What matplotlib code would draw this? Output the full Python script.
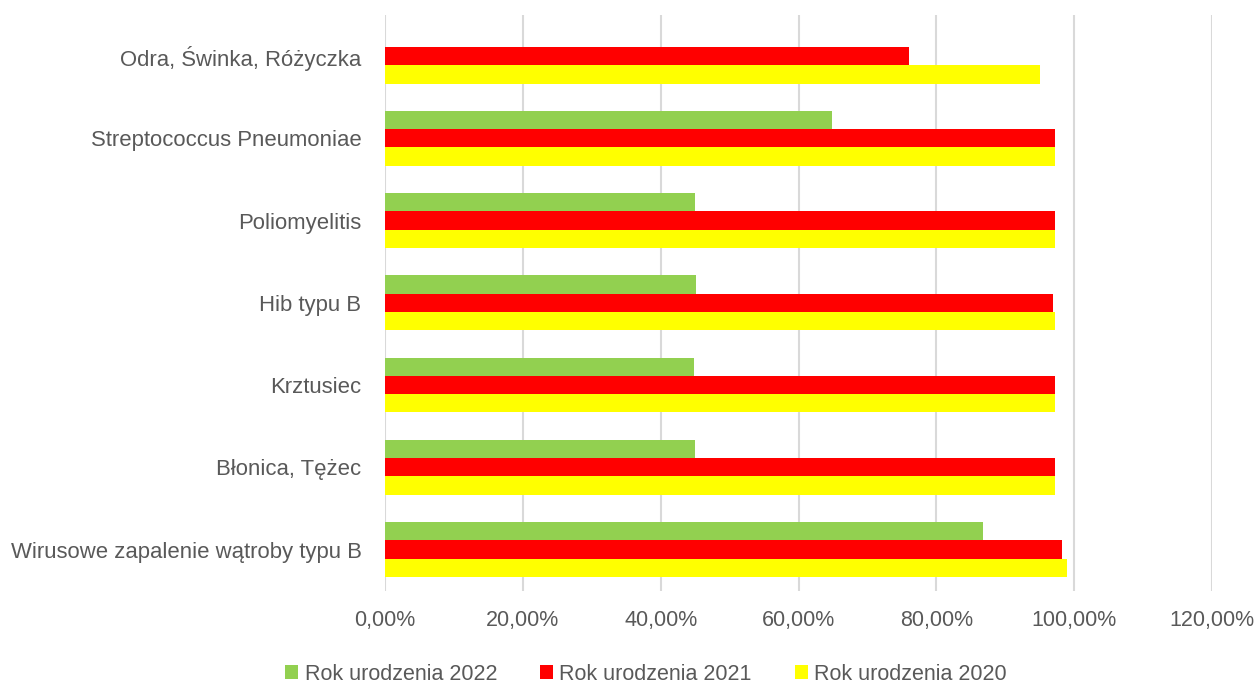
import matplotlib

matplotlib.use("Agg")
import matplotlib.pyplot as plt
from matplotlib.ticker import FuncFormatter
import numpy as np

plt.rcParams["font.family"] = ["Liberation Sans", "DejaVu Sans"]

# categories listed bottom to top
categories = [
    "Wirusowe zapalenie wątroby typu B",
    "Błonica, Tężec",
    "Krztusiec",
    "Hib typu B",
    "Poliomyelitis",
    "Streptococcus Pneumoniae",
    "Odra, Świnka, Różyczka",
]
rok_2022 = [86.7, 45.0, 44.9, 45.1, 45.0, 64.8, 0.0]
rok_2021 = [98.2, 97.2, 97.2, 96.9, 97.2, 97.2, 76.0]
rok_2020 = [99.0, 97.2, 97.2, 97.2, 97.2, 97.2, 95.0]

series = [
    ("Rok urodzenia 2022", rok_2022, "#92d050"),
    ("Rok urodzenia 2021", rok_2021, "#ff0000"),
    ("Rok urodzenia 2020", rok_2020, "#ffff00"),
]

text_color = "#595959"
grid_color = "#d9d9d9"

fig = plt.figure(figsize=(12.57, 6.84), dpi=100)
ax = fig.add_axes([385 / 1257, 1 - 590.7 / 684, (1212 - 385) / 1257, (590.7 - 15) / 684])

y = np.arange(len(categories))
h = 0.222
offsets = [h, 0, -h]
for (label, values, color), off in zip(series, offsets):
    ax.barh(y + off, values, height=h, color=color, label=label, zorder=3)

ax.set_xlim(0, 120)
ax.set_ylim(-0.5, len(categories) - 0.5)
ax.set_xticks(np.arange(0, 121, 20))
ax.xaxis.set_major_formatter(FuncFormatter(lambda v, _: f"{v:.2f}%".replace(".", ",")))
ax.set_yticks(y)
ax.set_yticklabels(categories)

for s in ax.spines.values():
    s.set_visible(False)
ax.grid(axis="x", color=grid_color, linewidth=1.5, zorder=0)
ax.tick_params(axis="both", length=0, colors=text_color, labelsize=15.5)
ax.tick_params(axis="y", labelsize=15.9, pad=17)
ax.tick_params(axis="x", pad=14)

handles, labels = ax.get_legend_handles_labels()
fig.legend(
    handles,
    labels,
    loc="center",
    bbox_to_anchor=(646 / 1257, 1 - 674 / 684),
    ncol=3,
    frameon=False,
    fontsize=15.5,
    labelcolor=text_color,
    handlelength=0.6,
    handleheight=0.6,
    handletextpad=0.3,
    columnspacing=2.0,
)

fig.savefig("out.png", dpi=100)
